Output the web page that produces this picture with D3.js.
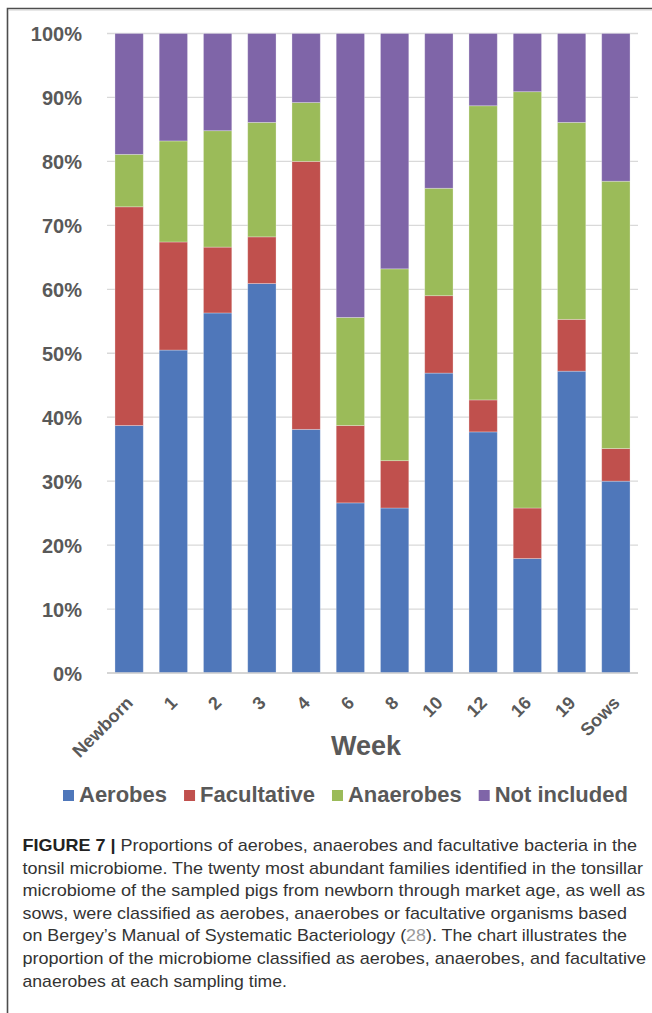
<!DOCTYPE html>
<html>
<head>
<meta charset="utf-8">
<script src="https://cdn.jsdelivr.net/npm/d3@7"></script>
<style>
  html, body { margin: 0; padding: 0; background: #fff; }
  svg { display: block; }
</style>
</head>
<body>
<svg id="fig" width="652" height="1013"></svg>
<script>
// Sampling times (x axis)
const categories = ["Newborn", "1", "2", "3", "4", "6", "8", "10", "12", "16", "19", "Sows"];

// Share of the twenty most abundant families in each class, percent
const aerobes      = [38.7, 50.5, 56.3, 60.9, 38.1, 26.6, 25.8, 46.9, 37.7, 17.9, 47.2, 30.0];
const facultative  = [34.2, 16.9, 10.3,  7.3, 41.9, 12.1,  7.4, 12.1,  5.0,  7.9,  8.1,  5.1];
const anaerobes    = [ 8.2, 15.8, 18.2, 17.9,  9.2, 16.9, 30.0, 16.8, 46.0, 65.1, 30.8, 41.8];
const notIncluded  = [18.9, 16.8, 15.2, 13.9, 10.8, 44.4, 36.8, 24.2, 11.3,  9.1, 13.9, 23.1];

const seriesNames = ["Aerobes", "Facultative", "Anaerobes", "Not included"];
const seriesColors = ["#4f77ba", "#c0504d", "#9bbb59", "#7f65a8"];

const yTicks = [0, 10, 20, 30, 40, 50, 60, 70, 80, 90, 100];
const tickLabels = yTicks.map(v => v + "%");

const captionLines = [
  [{t: "FIGURE 7 | ", b: true}, {t: "Proportions of aerobes, anaerobes and facultative bacteria in the"}],
  [{t: "tonsil microbiome. The twenty most abundant families identified in the tonsillar"}],
  [{t: "microbiome of the sampled pigs from newborn through market age, as well as"}],
  [{t: "sows, were classified as aerobes, anaerobes or facultative organisms based"}],
  [{t: "on Bergey\u2019s Manual of Systematic Bacteriology ("}, {t: "28", link: true}, {t: "). The chart illustrates the"}],
  [{t: "proportion of the microbiome classified as aerobes, anaerobes, and facultative"}],
  [{t: "anaerobes at each sampling time."}]
];
// right edge of each caption line
const captionLineEnds = [637, 643, 645, 627, 627, 646, 287];

// ---- build table for the stack ----
const series = [aerobes, facultative, anaerobes, notIncluded];
const table = categories.map((c, i) => {
  const row = {cat: c};
  seriesNames.forEach((s, k) => row[s] = series[k][i]);
  return row;
});

const svg = d3.select("#fig");
const font = "'Liberation Sans', Arial, sans-serif";
const grey = "#595959";

// figure frame
svg.append("path")
  .attr("d", "M7.5,1013V8.5H652")
  .attr("fill", "none").attr("stroke", "#4d4d4d").attr("stroke-width", 1.6);
svg.append("path")
  .attr("d", "M9,10H652")
  .attr("fill", "none").attr("stroke", "#cfcfcf").attr("stroke-width", 1);

// scales
const x = d3.scaleBand().domain(categories).range([107, 638]).paddingInner(0.36).paddingOuter(0.18);
const y = d3.scaleLinear().domain([0, 100]).range([673, 33.5]);

// gridlines
svg.append("g")
  .selectAll("line").data(yTicks).join("line")
  .attr("x1", 107).attr("x2", 638)
  .attr("y1", d => y(d)).attr("y2", d => y(d))
  .attr("stroke", "#d9d9d9").attr("stroke-width", 1.3);

// y axis labels
const yAxis = d3.axisLeft(y).tickValues(yTicks).tickFormat((d, i) => tickLabels[i]).tickSize(0).tickPadding(0);
const gy = svg.append("g").attr("transform", "translate(82,0)").call(yAxis);
gy.select(".domain").remove();
gy.selectAll("text")
  .attr("font-family", font).attr("font-size", 20).attr("font-weight", "bold")
  .attr("fill", grey).attr("dy", "0.36em");

// stacked bars
const stack = d3.stack().keys(seriesNames);
const layers = stack(table);
svg.append("g")
  .selectAll("g").data(layers).join("g")
  .attr("fill", (d, i) => seriesColors[i])
  .selectAll("rect").data(d => d).join("rect")
  .attr("x", d => x(d.data.cat))
  .attr("width", x.bandwidth())
  .attr("y", d => y(d[1]))
  .attr("height", d => y(d[0]) - y(d[1]))
  .attr("stroke", "rgba(255,255,255,0.35)").attr("stroke-width", 0.8);

// x axis labels
const xAxis = d3.axisBottom(x).tickSize(0).tickPadding(0);
const gx = svg.append("g").attr("transform", "translate(0,673)").call(xAxis);
gx.select(".domain").attr("stroke", "#d0d0d0").attr("stroke-width", 1.3).attr("d", "M107,0H638");
gx.selectAll(".tick text")
  .attr("font-family", font).attr("font-size", 18).attr("font-weight", "bold")
  .attr("fill", grey)
  .attr("text-anchor", "end")
  .attr("dy", 0).attr("y", 0)
  .attr("transform", "translate(5,31) rotate(-45)");

// axis title
svg.append("text")
  .attr("x", 366).attr("y", 755)
  .attr("text-anchor", "middle")
  .attr("font-family", font).attr("font-size", 27).attr("font-weight", "bold")
  .attr("fill", grey)
  .text("Week");

// legend
const legend = svg.append("g").attr("transform", "translate(63,802)");
let lx = 0;
seriesNames.forEach((name, i) => {
  legend.append("rect")
    .attr("x", lx).attr("y", -12).attr("width", 11).attr("height", 11)
    .attr("fill", seriesColors[i]);
  const t = legend.append("text")
    .attr("x", lx + 16).attr("y", 0)
    .attr("font-family", font).attr("font-size", 22).attr("font-weight", "bold")
    .attr("fill", grey)
    .text(name);
  lx += 16 + t.node().getComputedTextLength() + 17;
});

// caption
const cap = svg.append("g");
captionLines.forEach((parts, i) => {
  const t = cap.append("text")
    .attr("x", 22.5).attr("y", 851 + i * 22.6)
    .attr("font-family", font).attr("font-size", 16.2)
    .attr("fill", "#333")
    .attr("textLength", captionLineEnds[i] - 22.5)
    .attr("lengthAdjust", "spacingAndGlyphs");
  parts.forEach(p => {
    t.append("tspan")
      .attr("font-weight", p.b ? "bold" : null)
      .attr("fill", p.b ? "#222" : p.link ? "#9a9a9a" : null)
      .text(p.t);
  });
});
</script>
</body>
</html>
